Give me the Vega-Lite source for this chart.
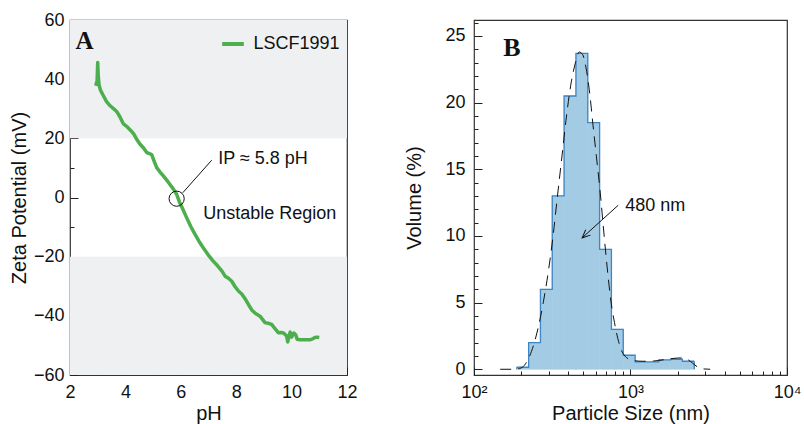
{
  "$schema": "https://vega.github.io/schema/vega-lite/v6.json",
  "background": "white",
  "padding": {"left": 8, "top": 10, "right": 5, "bottom": 5},
  "spacing": 127,
  "bounds": "flush",
  "config": {
    "font": "Liberation Sans",
    "view": {"stroke": "#333", "strokeWidth": 1.2},
    "axis": {
      "labelFont": "Liberation Sans", "labelFontSize": 18, "labelColor": "#111",
      "titleFont": "Liberation Sans", "titleFontSize": 20, "titleFontWeight": "normal", "titleColor": "#111",
      "tickColor": "#222", "tickWidth": 1, "domain": false, "grid": false,
      "labelFlush": false, "labelOverlap": false, "zindex": 1
    }
  },
  "datasets": {
    "zeta": [
      {"pH": 2.93, "mV": 37.8}, {"pH": 2.98, "mV": 39.5}, {"pH": 3.0, "mV": 45.6}, {"pH": 3.02, "mV": 41},
      {"pH": 3.05, "mV": 38}, {"pH": 3.1, "mV": 36.3}, {"pH": 3.2, "mV": 34.5}, {"pH": 3.32, "mV": 32.4},
      {"pH": 3.45, "mV": 31}, {"pH": 3.6, "mV": 29.8}, {"pH": 3.69, "mV": 29}, {"pH": 3.8, "mV": 27.3},
      {"pH": 3.92, "mV": 25}, {"pH": 4.05, "mV": 24}, {"pH": 4.2, "mV": 22.6}, {"pH": 4.3, "mV": 21.5},
      {"pH": 4.42, "mV": 19.5}, {"pH": 4.53, "mV": 18}, {"pH": 4.65, "mV": 16.8}, {"pH": 4.77, "mV": 15.2},
      {"pH": 4.87, "mV": 14.8}, {"pH": 4.95, "mV": 14.5}, {"pH": 5.03, "mV": 12.5}, {"pH": 5.13, "mV": 10.1},
      {"pH": 5.25, "mV": 8.6}, {"pH": 5.37, "mV": 7.3}, {"pH": 5.5, "mV": 5.8}, {"pH": 5.61, "mV": 4.4},
      {"pH": 5.72, "mV": 3}, {"pH": 5.85, "mV": 1.1}, {"pH": 5.95, "mV": -1.5}, {"pH": 6.05, "mV": -3.5},
      {"pH": 6.21, "mV": -6.8}, {"pH": 6.36, "mV": -9.8}, {"pH": 6.51, "mV": -12.4}, {"pH": 6.65, "mV": -14.7},
      {"pH": 6.81, "mV": -17}, {"pH": 6.98, "mV": -19.3}, {"pH": 7.17, "mV": -21.5}, {"pH": 7.32, "mV": -23},
      {"pH": 7.48, "mV": -24.8}, {"pH": 7.6, "mV": -26.6}, {"pH": 7.72, "mV": -27.3}, {"pH": 7.84, "mV": -28.3},
      {"pH": 7.95, "mV": -30}, {"pH": 8.08, "mV": -31.6}, {"pH": 8.2, "mV": -32.6}, {"pH": 8.32, "mV": -34.2},
      {"pH": 8.45, "mV": -36.3}, {"pH": 8.56, "mV": -38}, {"pH": 8.7, "mV": -39.2}, {"pH": 8.86, "mV": -40.1},
      {"pH": 8.95, "mV": -41.2}, {"pH": 9.04, "mV": -42.3}, {"pH": 9.15, "mV": -42.5}, {"pH": 9.28, "mV": -42.9},
      {"pH": 9.4, "mV": -44.3}, {"pH": 9.52, "mV": -45.7}, {"pH": 9.62, "mV": -45.6}, {"pH": 9.72, "mV": -45.9},
      {"pH": 9.82, "mV": -46.8}, {"pH": 9.86, "mV": -48.8}, {"pH": 9.9, "mV": -47}, {"pH": 9.95, "mV": -45.5},
      {"pH": 10.0, "mV": -47.2}, {"pH": 10.08, "mV": -45.8}, {"pH": 10.15, "mV": -46.5}, {"pH": 10.2, "mV": -47.9},
      {"pH": 10.3, "mV": -48.1}, {"pH": 10.42, "mV": -48.1}, {"pH": 10.55, "mV": -48.1}, {"pH": 10.66, "mV": -48.1},
      {"pH": 10.76, "mV": -47.8}, {"pH": 10.84, "mV": -47.3}, {"pH": 10.92, "mV": -47.2}, {"pH": 11.0, "mV": -47.3}
    ],
    "bars": [
      {"lo": 187.6, "hi": 223.4, "v": 0.15},
      {"lo": 223.4, "hi": 265.8, "v": 2},
      {"lo": 265.8, "hi": 316.3, "v": 6},
      {"lo": 316.3, "hi": 376.5, "v": 13},
      {"lo": 376.5, "hi": 448.1, "v": 20.5},
      {"lo": 448.1, "hi": 533.3, "v": 23.7},
      {"lo": 533.3, "hi": 634.7, "v": 18.5},
      {"lo": 634.7, "hi": 755.3, "v": 9},
      {"lo": 755.3, "hi": 898.9, "v": 3},
      {"lo": 898.9, "hi": 1070, "v": 1.05},
      {"lo": 1070, "hi": 1273, "v": 0.55},
      {"lo": 1273, "hi": 1515, "v": 0.55},
      {"lo": 1515, "hi": 1804, "v": 0.7},
      {"lo": 1804, "hi": 2146, "v": 0.75},
      {"lo": 2146, "hi": 2555, "v": 0.6}
    ],
    "fit": [
      {"size": 147, "v": 0}, {"size": 175, "v": 0}, {"size": 195, "v": 0.05}, {"size": 210, "v": 0.3},
      {"size": 225, "v": 0.9}, {"size": 240, "v": 1.8}, {"size": 258, "v": 3.2}, {"size": 278, "v": 5.1},
      {"size": 300, "v": 7.5}, {"size": 320, "v": 10}, {"size": 340, "v": 12.8}, {"size": 365, "v": 16},
      {"size": 390, "v": 19}, {"size": 415, "v": 21.3}, {"size": 445, "v": 23}, {"size": 470, "v": 23.8},
      {"size": 495, "v": 23.6}, {"size": 520, "v": 22.6}, {"size": 545, "v": 21}, {"size": 575, "v": 18.4},
      {"size": 605, "v": 16}, {"size": 640, "v": 13.3}, {"size": 675, "v": 10.3}, {"size": 710, "v": 7.6},
      {"size": 750, "v": 5.1}, {"size": 790, "v": 3.5}, {"size": 830, "v": 2.3}, {"size": 870, "v": 1.5},
      {"size": 920, "v": 1.0}, {"size": 980, "v": 0.75}, {"size": 1050, "v": 0.65}, {"size": 1200, "v": 0.6},
      {"size": 1400, "v": 0.62}, {"size": 1650, "v": 0.72}, {"size": 1900, "v": 0.82}, {"size": 2100, "v": 0.85},
      {"size": 2300, "v": 0.75}, {"size": 2500, "v": 0.45}, {"size": 2700, "v": 0.15}, {"size": 2900, "v": 0.03},
      {"size": 3230, "v": 0}
    ]
  },
  "hconcat": [
    {
      "width": 277,
      "height": 355,
      "resolve": {"axis": {"x": "independent", "y": "independent"}},
      "layer": [
        {
          "layer": [
            {
              "data": {"values": [{"lo": 20, "hi": 60}, {"lo": -60, "hi": -20}]},
              "mark": {"type": "rect", "color": "#eff0f2"},
              "encoding": {
                "x": {
                  "datum": 2, "type": "quantitative",
                  "scale": {"domain": [2, 12], "nice": false, "zero": false},
                  "axis": {
                    "title": "pH", "orient": "bottom",
                    "values": [2, 4, 6, 8, 10, 12],
                    "tickSize": -8, "labelPadding": 16, "titlePadding": 2, "labelOverlap": false
                  }
                },
                "x2": {"datum": 12},
                "y": {
                  "field": "lo", "type": "quantitative",
                  "scale": {"domain": [-60, 60], "nice": false},
                  "axis": {
                    "title": "Zeta Potential (mV)", "orient": "left",
                    "values": [-60, -40, -20, 0, 20, 40, 60],
                    "tickSize": -8, "labelPadding": 14, "titlePadding": 4, "labelOverlap": false
                  }
                },
                "y2": {"field": "hi"}
              }
            },
            {
              "mark": {"type": "rule", "color": "#111", "strokeWidth": 1.3},
              "encoding": {"y": {"datum": 0, "type": "quantitative"}}
            },
            {
              "data": {"name": "zeta"},
              "mark": {"type": "line", "strokeWidth": 3.5, "strokeJoin": "round", "strokeCap": "butt"},
              "encoding": {
                "x": {"field": "pH", "type": "quantitative"},
                "y": {"field": "mV", "type": "quantitative"},
                "color": {
                  "datum": "LSCF1991", "type": "nominal",
                  "scale": {"range": ["#4cae4c"]},
                  "legend": {
                    "orient": "none", "legendX": 150, "legendY": 11, "title": null,
                    "symbolType": "stroke", "symbolStrokeWidth": 4, "symbolSize": 470,
                    "labelFont": "Liberation Sans", "labelFontSize": 18, "labelColor": "#111",
                    "labelOffset": 7.5, "padding": 0
                  }
                }
              }
            },
            {
              "data": {"values": [{"x": 6.07, "y": 1.6, "x2": 7.115, "y2": 12.6}]},
              "mark": {"type": "rule", "color": "#111", "strokeWidth": 1},
              "encoding": {
                "x": {"field": "x", "type": "quantitative"}, "y": {"field": "y", "type": "quantitative"},
                "x2": {"field": "x2"}, "y2": {"field": "y2"}
              }
            },
            {
              "data": {"values": [{"x": 7.35, "y": 12.9, "label": "IP ≈ 5.8 pH"}, {"x": 6.81, "y": -5.5, "label": "Unstable Region"}]},
              "mark": {"type": "text", "align": "left", "baseline": "middle", "font": "Liberation Sans", "fontSize": 18, "color": "#111"},
              "encoding": {
                "x": {"field": "x", "type": "quantitative"}, "y": {"field": "y", "type": "quantitative"},
                "text": {"field": "label"}
              }
            },
            {
              "data": {"values": [{"x": 2.2, "y": 52.9, "label": "A"}]},
              "mark": {"type": "text", "align": "left", "baseline": "middle", "font": "Liberation Serif", "fontWeight": "bold", "fontSize": 25, "color": "#111"},
              "encoding": {
                "x": {"field": "x", "type": "quantitative"}, "y": {"field": "y", "type": "quantitative"},
                "text": {"field": "label"}
              }
            }
          ]
        },
        {
          "data": {"values": [{"x": 5.85, "y": -0.4}]},
          "mark": {"type": "point", "shape": "circle", "size": 230, "filled": false, "stroke": "#111", "strokeWidth": 1, "opacity": 1},
          "encoding": {
            "x": {"field": "x", "type": "quantitative",
                  "axis": {"orient": "bottom", "values": [3, 5, 7, 9, 11], "tickSize": -4, "labels": false, "title": null}},
            "y": {"field": "y", "type": "quantitative",
                  "axis": {"orient": "left", "values": [-50, -30, -10, 10, 30, 50], "tickSize": -4, "labels": false, "title": null}}
          }
        }
      ]
    },
    {
      "width": 313,
      "height": 355,
      "resolve": {"axis": {"x": "independent", "y": "independent"}},
      "layer": [
        {
          "layer": [
            {
              "data": {"name": "bars"},
              "mark": {"type": "rect", "color": "#a3cbe4", "stroke": "#a3cbe4", "strokeWidth": 0.6},
              "encoding": {
                "x": {
                  "field": "lo", "type": "quantitative",
                  "scale": {"type": "log", "domain": [100, 10000], "nice": false},
                  "axis": {
                    "title": "Particle Size (nm)", "orient": "bottom",
                    "values": [100, 1000, 10000],
                    "labelExpr": "datum.value == 100 ? '10²' : datum.value == 1000 ? '10³' : '10⁴'",
                    "tickSize": -8, "labelPadding": 16, "titlePadding": 2, "labelOverlap": false
                  }
                },
                "x2": {"field": "hi"},
                "y": {
                  "field": "v", "type": "quantitative",
                  "scale": {"domain": [-0.43, 26.2], "nice": false, "zero": false},
                  "axis": {
                    "title": "Volume (%)", "orient": "left",
                    "values": [0, 5, 10, 15, 20, 25],
                    "tickSize": -8, "labelPadding": 17, "titlePadding": 20, "labelOverlap": false
                  }
                },
                "y2": {"datum": 0}
              }
            },
            {
              "data": {"name": "bars"},
              "transform": [{"fold": ["lo", "hi"], "as": ["edge", "x"]}],
              "mark": {"type": "line", "color": "#3f86c4", "strokeWidth": 1.3},
              "encoding": {
                "x": {"field": "x", "type": "quantitative"},
                "y": {"field": "v", "type": "quantitative"},
                "order": [{"field": "x", "type": "quantitative"}, {"field": "edge", "type": "nominal"}]
              }
            },
            {
              "data": {"name": "bars"},
              "transform": [{"filter": "datum.hi > 2500"}],
              "mark": {"type": "rule", "color": "#3f86c4", "strokeWidth": 1.3},
              "encoding": {
                "x": {"field": "hi", "type": "quantitative"},
                "y": {"field": "v", "type": "quantitative"}, "y2": {"datum": 0}
              }
            },
            {
              "data": {"name": "bars"},
              "transform": [{"filter": "datum.lo < 190"}],
              "mark": {"type": "rule", "color": "#3f86c4", "strokeWidth": 1.3},
              "encoding": {
                "x": {"field": "lo", "type": "quantitative"},
                "y": {"field": "v", "type": "quantitative"}, "y2": {"datum": 0}
              }
            },
            {
              "data": {"name": "fit"},
              "mark": {"type": "line", "color": "#111", "strokeWidth": 1, "strokeDash": [11, 7], "interpolate": "monotone"},
              "encoding": {
                "x": {"field": "size", "type": "quantitative"},
                "y": {"field": "v", "type": "quantitative"}
              }
            },
            {
              "mark": {"type": "rule", "color": "#111", "strokeWidth": 1.2, "strokeDash": [12, 6]},
              "encoding": {
                "x": {"datum": 480, "type": "quantitative"},
                "y": {"datum": 0, "type": "quantitative"}, "y2": {"datum": 23.6}
              }
            },
            {
              "data": {"values": [{"x": 834, "y": 12.3, "x2": 491, "y2": 9.86}]},
              "mark": {"type": "rule", "color": "#111", "strokeWidth": 1},
              "encoding": {
                "x": {"field": "x", "type": "quantitative"}, "y": {"field": "y", "type": "quantitative"},
                "x2": {"field": "x2"}, "y2": {"field": "y2"}
              }
            },
            {
              "data": {"values": [{"x": 925, "y": 12.23, "label": "480 nm"}]},
              "mark": {"type": "text", "align": "left", "baseline": "middle", "font": "Liberation Sans", "fontSize": 18, "color": "#111"},
              "encoding": {
                "x": {"field": "x", "type": "quantitative"}, "y": {"field": "y", "type": "quantitative"},
                "text": {"field": "label"}
              }
            },
            {
              "data": {"values": [{"x": 154, "y": 24.1, "label": "B"}]},
              "mark": {"type": "text", "align": "left", "baseline": "middle", "font": "Liberation Serif", "fontWeight": "bold", "fontSize": 26, "color": "#111"},
              "encoding": {
                "x": {"field": "x", "type": "quantitative"}, "y": {"field": "y", "type": "quantitative"},
                "text": {"field": "label"}
              }
            }
          ]
        },
        {
          "data": {"values": [{"x": 491, "y": 9.86}]},
          "mark": {"type": "point", "shape": "M-0.45,1 L0,0 L0.45,1", "size": 256, "filled": false, "stroke": "#111", "strokeWidth": 1, "angle": 228, "opacity": 1},
          "encoding": {
            "x": {"field": "x", "type": "quantitative",
                  "axis": {"orient": "bottom", "values": [200, 300, 400, 500, 600, 700, 800, 900, 2000, 3000, 4000, 5000, 6000, 7000, 8000, 9000], "tickSize": -4, "labels": false, "title": null}},
            "y": {"field": "y", "type": "quantitative",
                  "axis": {"orient": "left", "values": [1, 2, 3, 4, 6, 7, 8, 9, 11, 12, 13, 14, 16, 17, 18, 19, 21, 22, 23, 24, 26], "tickSize": -4, "labels": false, "title": null}}
          }
        }
      ]
    }
  ]
}
